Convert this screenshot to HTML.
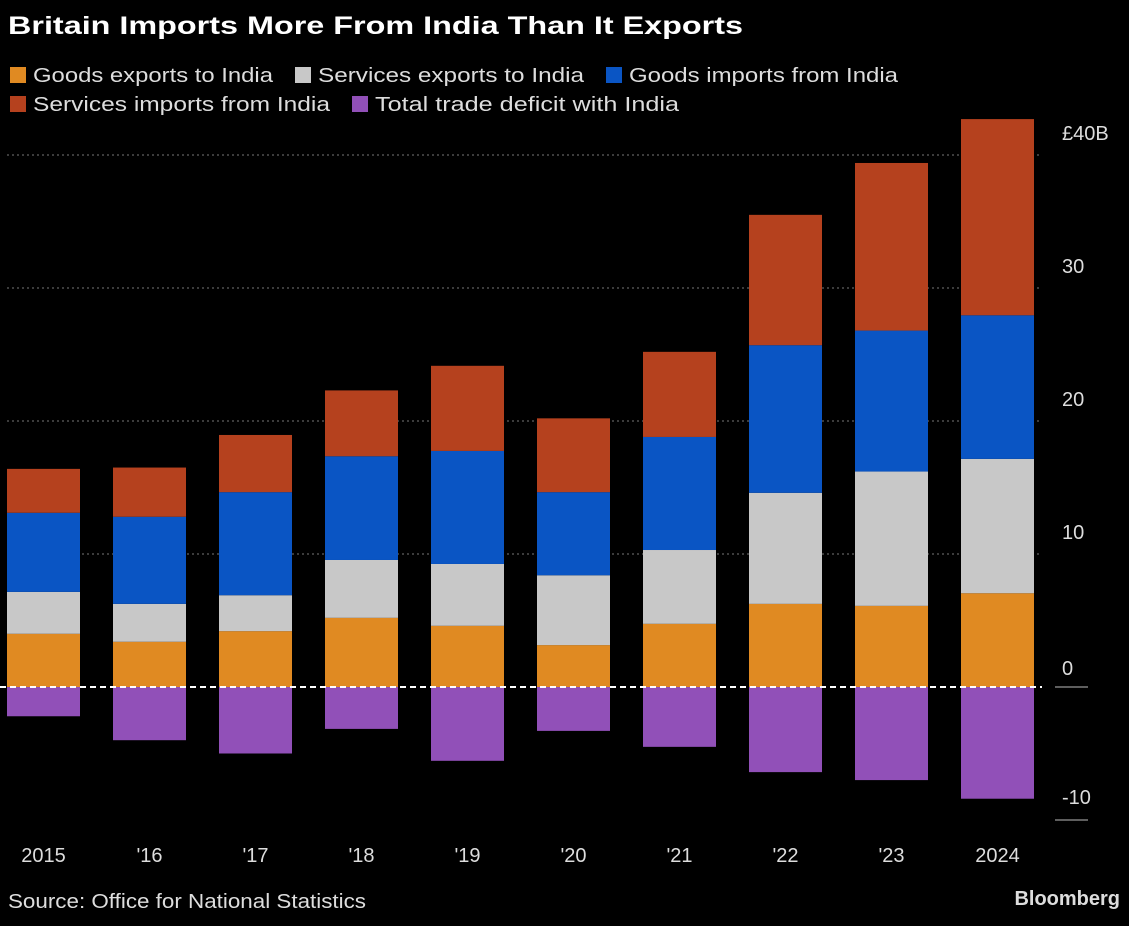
<!DOCTYPE html>
<html><head><meta charset="utf-8"><style>
body{margin:0;background:#000;width:1129px;height:921px;overflow:hidden;font-family:"Liberation Sans",sans-serif;color:#fff}
</style></head><body>
<svg width="1129" height="921" xmlns="http://www.w3.org/2000/svg">
<text x="8" y="34" font-size="25" font-weight="bold" fill="#fff" textLength="735" lengthAdjust="spacingAndGlyphs">Britain Imports More From India Than It Exports</text>
<g id="legend" font-size="20" fill="#ddd"></g>
<g id="grid"></g>
<g id="bars"></g>
<g id="axes"></g>
<text x="8" y="908" font-size="20" fill="#ddd" textLength="358" lengthAdjust="spacingAndGlyphs">Source: Office for National Statistics</text>
<text x="1120" y="905" font-size="20" font-weight="bold" fill="#ddd" text-anchor="end">Bloomberg</text>
</svg>
<script>
const categories=["2015","'16","'17","'18","'19","'20","'21","'22","'23","2024"];
const goodsExports=[4.0,3.4,4.2,5.2,4.6,3.15,4.75,6.25,6.1,7.05];
const servicesExports=[3.15,2.85,2.7,4.35,4.65,5.25,5.55,8.35,10.1,10.1];
const goodsImports=[5.95,6.55,7.75,7.8,8.5,6.25,8.5,11.1,10.6,10.8];
const servicesImports=[3.3,3.7,4.3,4.95,6.4,5.55,6.4,9.8,12.6,14.75];
const deficit=[-2.2,-4.0,-5.0,-3.15,-5.55,-3.3,-4.5,-6.4,-7.0,-8.4];
const yTicks=[40,30,20,10,0,-10];
const yTickLabels=["£40B","30","20","10","0","-10"];
const ns="http://www.w3.org/2000/svg";
const y=v=>687-v*13.3;
const x=i=>7+i*106;
const bw=73;
function mk(t,a,p){const e=document.createElementNS(ns,t);for(const k in a)e.setAttribute(k,a[k]);p.appendChild(e);return e;}
const grid=document.getElementById('grid'),bars=document.getElementById('bars'),axes=document.getElementById('axes'),leg=document.getElementById('legend');
yTicks.forEach((t,i)=>{
 if(t>0){const l=mk('line',{x1:7,x2:1040,y1:y(t),y2:y(t),stroke:'#777','stroke-dasharray':'2,3'},grid);
 
 }
 if(t<=0){const l=mk('line',{x1:1055,x2:1088,y1:y(t),y2:y(t),stroke:'#bbb'},axes);
 
 }
 const tx=mk('text',{x:1062,y:t===0?y(t)-12:(t<0?y(t)-16:y(t)-15),'font-size':20,fill:'#ddd'},axes);
 tx.textContent=yTickLabels[i];
 
 
});
const series=[[goodsExports,'#e08a22','goods-exports'],[servicesExports,'#c8c8c8','services-exports'],[goodsImports,'#0a55c4','goods-imports'],[servicesImports,'#b5411e','services-imports']];
categories.forEach((c,i)=>{
 let cum=0;
 series.forEach(s=>{const v=s[0][i];const r=mk('rect',{x:x(i),y:y(cum+v),width:bw,height:v*13.3,fill:s[1]},bars);
 
 cum+=v;});
 const d=mk('rect',{x:x(i),y:y(0),width:bw,height:-deficit[i]*13.3,fill:'#9150b8'},bars);
 
 
 const t=mk('text',{x:x(i)+bw/2,y:862,'font-size':20,fill:'#ddd','text-anchor':'middle'},axes);
 t.textContent=c;
 
 
});
const z=mk('line',{x1:0,x2:1042,y1:y(0),y2:y(0),stroke:'#fff','stroke-width':2,'stroke-dasharray':'6,4'},axes);


const legItems=[['Goods exports to India','#e08a22',10,75,240],['Services exports to India','#c8c8c8',295,75,266],['Goods imports from India','#0a55c4',606,75,269],['Services imports from India','#b5411e',10,104,297],['Total trade deficit with India','#9150b8',352,104,304]];
legItems.forEach(l=>{
 const g=mk('g',{},leg);
 
 
 mk('rect',{x:l[2],y:l[3]-8,width:16,height:16,fill:l[1]},g);
 const t=mk('text',{x:l[2]+23,y:l[3]+7,textLength:l[4],lengthAdjust:'spacingAndGlyphs'},g);t.textContent=l[0];
});
</script>
</body></html>
